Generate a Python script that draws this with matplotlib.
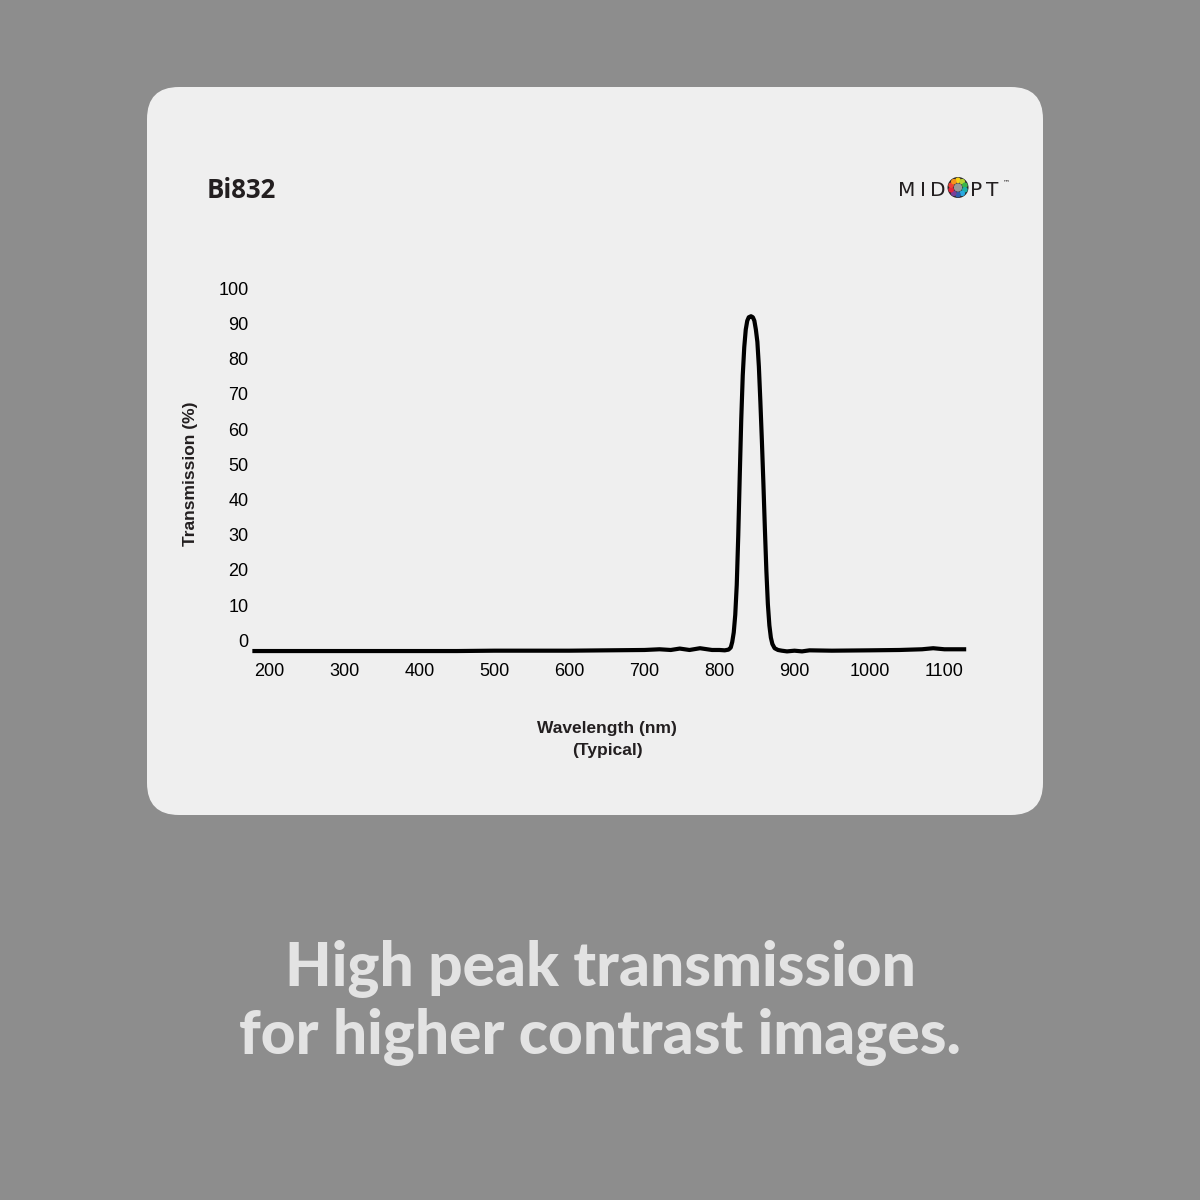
import numpy as np
import matplotlib
matplotlib.use('Agg')
import matplotlib.pyplot as plt
from matplotlib.patches import FancyBboxPatch, Circle
import matplotlib.transforms as mtransforms

# Transmission curve of the Bi832 filter
wavelength = [177, 250, 350, 450, 500, 550, 600, 650, 700, 720, 735, 747, 760,
              774, 790, 800, 807, 812, 815, 817, 819, 821, 823, 825, 827, 829,
              831, 833, 835, 837, 839, 842, 844.5, 846.5, 848.5, 850.5, 852.5,
              854.5, 856.5, 858.5, 860.5, 862.5, 864.5, 866.5, 868.5, 870.5,
              873.5, 878, 883, 890, 900, 910, 920, 950, 1000, 1040, 1070, 1085,
              1100, 1129]
transmission = [0.2, 0.2, 0.2, 0.2, 0.3, 0.3, 0.3, 0.4, 0.5, 0.7, 0.5, 0.9, 0.5,
                1.0, 0.5, 0.5, 0.4, 0.6, 1.2, 2.8, 5.5, 10.5, 19, 33, 50, 66,
                78.5, 86.5, 91.5, 94, 95, 95.3, 95, 94, 91.5, 88, 81, 71, 60,
                48, 35, 23, 13.5, 7.5, 4, 2.2, 1.0, 0.5, 0.3, 0.1, 0.3, 0.1,
                0.4, 0.3, 0.4, 0.5, 0.7, 1.0, 0.7, 0.7]

x_ticks = [200, 300, 400, 500, 600, 700, 800, 900, 1000, 1100]
y_ticks = [0, 10, 20, 30, 40, 50, 60, 70, 80, 90, 100]

title = 'Bi832'
caption = ['High peak transmission', 'for higher contrast images.']

bg_color = '#8d8d8d'
card_color = '#efefef'
ink = '#231f20'

fig = plt.figure(figsize=(12, 12), dpi=100)
fig.patch.set_facecolor(bg_color)

# full-figure axes in pixel units for the card, logo and captions
bg = fig.add_axes([0, 0, 1, 1], zorder=0)
bg.set_xlim(0, 1200)
bg.set_ylim(1200, 0)
bg.axis('off')
bg.add_patch(FancyBboxPatch((147, 87), 896, 728,
                            boxstyle='round,pad=0,rounding_size=32',
                            facecolor=card_color, edgecolor='none'))

bg.text(207, 198, title, fontfamily='Open Sans', fontweight='bold',
        fontsize=18.5, color=ink, ha='left', va='baseline')

# logo, letter by letter
for ch, xc in zip('MIDPT', [907, 923, 937.5, 976.5, 992]):
    bg.text(xc, 195.5, ch, fontfamily='DejaVu Sans', fontsize=14.5, color=ink,
            ha='center', va='baseline')
bg.text(1003, 184, '\u2122', fontfamily='DejaVu Sans', fontsize=5, color=ink,
        ha='left', va='baseline')
cx, cy = 958, 187.5
bg.add_patch(Circle((cx, cy), 10.5, facecolor='#2b2b2b', edgecolor='none'))
bg.add_patch(Circle((cx, cy), 4.2, facecolor='#9a9a9a', edgecolor='none'))
dot_colors = ['#f7d117', '#b5d334', '#39b54a', '#1bb1a6', '#29a9e0',
              '#2f5fae', '#7a3f97', '#e5243b', '#ef4136', '#f7941d']
for k, c in enumerate(dot_colors):
    a = np.pi / 2 - 2 * np.pi * k / len(dot_colors)
    bg.add_patch(Circle((cx + 7.2 * np.cos(a), cy - 7.2 * np.sin(a)), 2.8,
                        facecolor=c, edgecolor='none'))

# axis titles
bg.text(190, 474, 'Transmission (%)', rotation=90, fontfamily='Liberation Sans',
        fontweight='bold', fontsize=12.5, color=ink, ha='center', va='center')
bg.text(607, 728, 'Wavelength (nm)', fontfamily='Liberation Sans',
        fontweight='bold', fontsize=12.5, color=ink, ha='center', va='center')
bg.text(607, 751, '(Typical)', fontfamily='Liberation Sans',
        fontweight='bold', fontsize=12.5, color=ink, ha='center', va='center')

# caption under the card
bg.text(600, 986, caption[0], fontfamily='Lato', fontweight='black',
        fontsize=43.5, color='#e3e3e3', ha='center', va='baseline')
bg.text(600, 1054, caption[1], fontfamily='Lato', fontweight='black',
        fontsize=43.5, color='#e3e3e3', ha='center', va='baseline')

# the chart
ax = fig.add_axes([0.20592, 0.44808, 0.60300, 0.31392], zorder=1)
ax.set_facecolor('none')
ax.plot(wavelength, transmission, color='black', lw=3, solid_capstyle='butt',
        solid_joinstyle='round')
ax.set_xlim(170, 1135)
ax.set_ylim(-3, 104)
ax.set_xticks(x_ticks)
ax.set_yticks(y_ticks)
for s in ax.spines.values():
    s.set_visible(False)
ax.tick_params(length=0, labelsize=13, labelcolor='black')
ax.tick_params(axis='x', pad=0.5)
ax.tick_params(axis='y', pad=-1)
for lab in ax.get_xticklabels() + ax.get_yticklabels():
    lab.set_fontfamily('Liberation Sans')

# the y labels sit a little above their gridline in the original
shift = mtransforms.ScaledTranslation(0, 11.5 / 100, fig.dpi_scale_trans)
for tick in ax.yaxis.get_major_ticks():
    tick.label1.set_transform(tick.label1.get_transform() + shift)

fig.savefig('out.png', dpi=100, facecolor=bg_color)
